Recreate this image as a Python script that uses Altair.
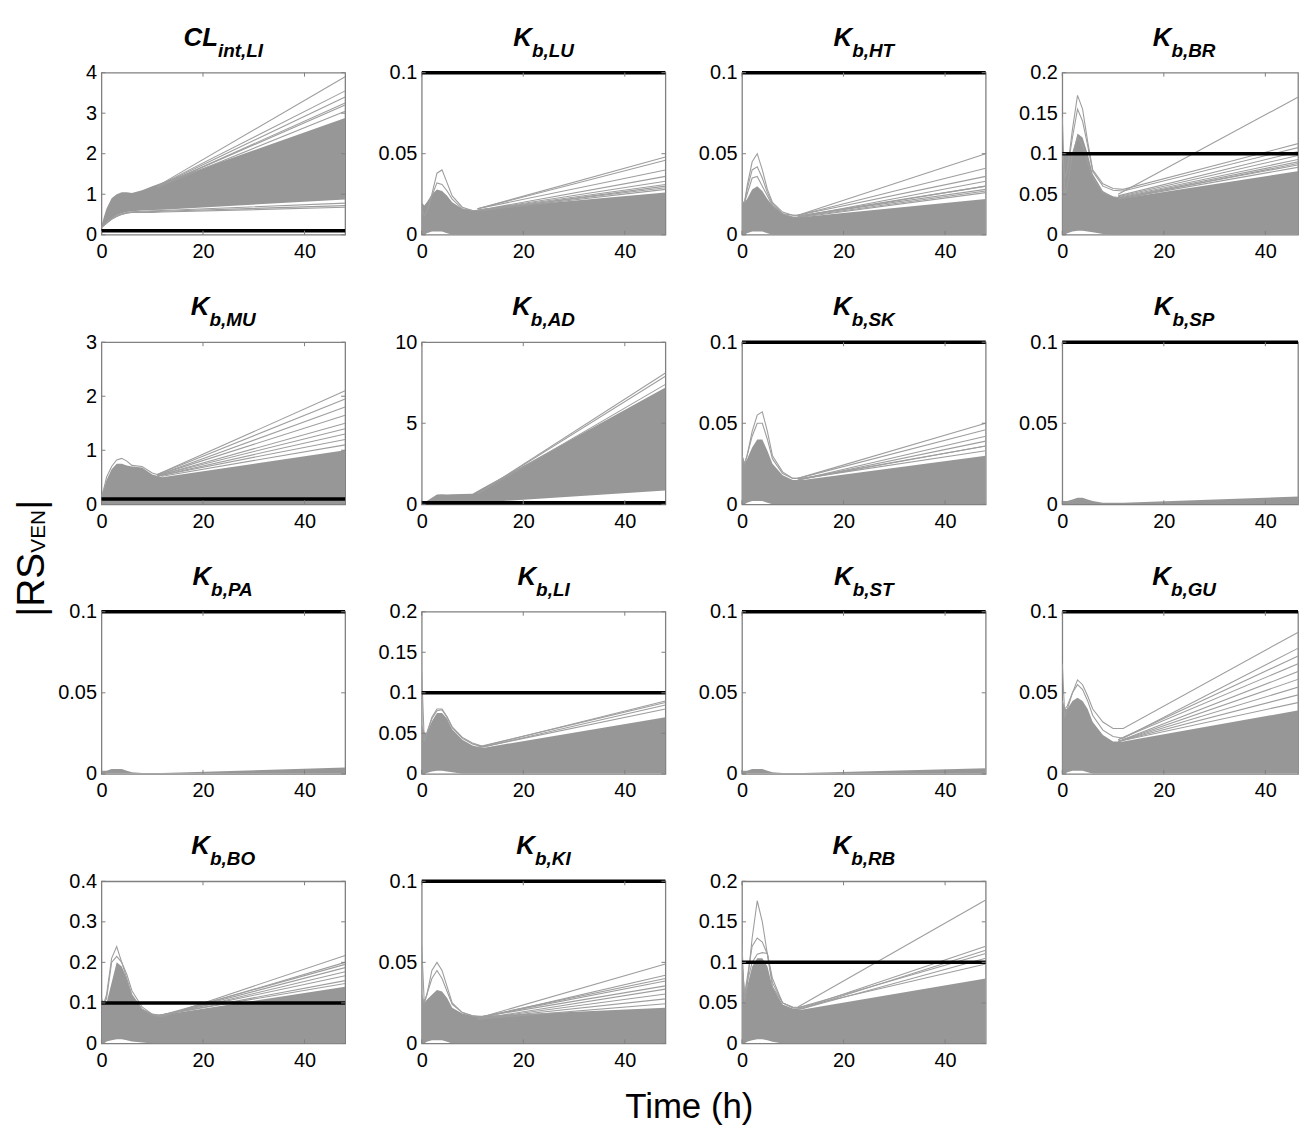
import altair as alt
import pandas as pd

# ---------------- data ----------------
T = [0, 0.5, 1, 2, 3, 4, 5, 6, 8, 10, 12, 48]      # time grid of envelopes / peak curves
T_LATE = [11, 48]                                  # straight late segments
X_TICKS = [0, 20, 40]
THRESHOLD = 0.1

Y_01 = [0, 0.05, 0.1]
Y_02 = [0, 0.05, 0.1, 0.15, 0.2]
Y_04 = [0, 0.1, 0.2, 0.3, 0.4]
Y_3 = [0, 1, 2, 3]
Y_4 = [0, 1, 2, 3, 4]
Y_10 = [0, 5, 10]

# CL_int,LI
CL_HI = [0.22, 0.45, 0.65, 0.9, 1.0, 1.05, 1.05, 1.03, 1.1, 1.2, 1.29, 2.88]
CL_LO = [0.18, 0.24, 0.3, 0.4, 0.48, 0.53, 0.56, 0.58, 0.6, 0.61, 0.62, 0.87]
CL_PEAKS = [[0.18, 0.23, 0.28, 0.38, 0.45, 0.5, 0.53, 0.55, 0.55, 0.55, 0.56, 0.68],
            [0.18, 0.23, 0.29, 0.39, 0.46, 0.51, 0.54, 0.56, 0.56, 0.57, 0.58, 0.72],
            [0.18, 0.24, 0.3, 0.4, 0.47, 0.52, 0.55, 0.57, 0.58, 0.59, 0.6, 0.78]]
CL_LATE0 = [1.2, 1.2, 1.19, 1.18, 1.18, 1.17]
CL_LATE1 = [3.9, 3.55, 3.4, 3.25, 3.2, 3.05]

# K_b,LU
LU_HI = [0.02, 0.018, 0.02, 0.025, 0.028, 0.027, 0.024, 0.02, 0.016, 0.015, 0.016, 0.026]
LU_LO = [0, 0, 0.001, 0.002, 0.002, 0.002, 0.001, 0, 0, 0, 0, 0]
LU_PEAKS = [[0.015, 0.012, 0.014, 0.025, 0.038, 0.04, 0.032, 0.024, 0.017, 0.015, 0.015, 0.03],
            [0.015, 0.012, 0.014, 0.024, 0.032, 0.031, 0.027, 0.022, 0.016, 0.015, 0.015, 0.028]]
LU_LATE0 = [0.016, 0.016, 0.016, 0.015, 0.015, 0.015, 0.015]
LU_LATE1 = [0.048, 0.046, 0.04, 0.036, 0.033, 0.031, 0.029]

# K_b,HT
HT_HI = [0.02, 0.02, 0.022, 0.028, 0.03, 0.027, 0.022, 0.018, 0.013, 0.011, 0.011, 0.022]
HT_LO = [0, 0, 0.001, 0.002, 0.002, 0.002, 0.001, 0, 0, 0, 0, 0]
HT_PEAKS = [[0.02, 0.02, 0.03, 0.045, 0.05, 0.04, 0.028, 0.02, 0.014, 0.012, 0.012, 0.03],
            [0.02, 0.02, 0.028, 0.04, 0.042, 0.035, 0.026, 0.019, 0.013, 0.012, 0.012, 0.028],
            [0.02, 0.02, 0.025, 0.035, 0.036, 0.03, 0.024, 0.018, 0.013, 0.011, 0.011, 0.026]]
HT_LATE0 = [0.012, 0.012, 0.012, 0.011, 0.011, 0.011]
HT_LATE1 = [0.05, 0.041, 0.036, 0.033, 0.03, 0.027]

# K_b,BR
BR_HI = [0.1, 0.1, 0.1, 0.1, 0.125, 0.12, 0.1, 0.075, 0.054, 0.047, 0.045, 0.08]
BR_LO = [0, 0, 0.002, 0.004, 0.005, 0.005, 0.004, 0.003, 0.001, 0, 0, 0]
BR_PEAKS = [[0.1, 0.07, 0.08, 0.13, 0.172, 0.155, 0.115, 0.08, 0.063, 0.057, 0.056, 0.115],
            [0.1, 0.07, 0.08, 0.12, 0.155, 0.14, 0.11, 0.078, 0.06, 0.055, 0.054, 0.11],
            [0.145, 0.05, 0.06, 0.1, 0.12, 0.11, 0.09, 0.07, 0.052, 0.047, 0.045, 0.09]]
BR_LATE0 = [0.05, 0.048, 0.047, 0.046, 0.045, 0.045, 0.044]
BR_LATE1 = [0.175, 0.105, 0.1, 0.095, 0.092, 0.088, 0.085]

# K_b,MU
MU_HI = [0.15, 0.3, 0.45, 0.65, 0.75, 0.75, 0.72, 0.7, 0.68, 0.55, 0.5, 1.0]
MU_LO = [0, 0, 0, 0, 0, 0, 0, 0, 0, 0, 0, 0]
MU_PEAKS = [[0.15, 0.3, 0.5, 0.7, 0.82, 0.85, 0.8, 0.72, 0.7, 0.58, 0.52, 1.1]]
MU_LATE0 = [0.55, 0.55, 0.54, 0.54, 0.53, 0.53, 0.52, 0.52]
MU_LATE1 = [2.1, 1.95, 1.8, 1.65, 1.5, 1.4, 1.3, 1.2]

# K_b,AD
AD_HI = [0.05, 0.1, 0.2, 0.4, 0.6, 0.62, 0.6, 0.62, 0.64, 0.65, 1.0, 7.2]
AD_LO = [0, 0, 0, 0, 0, 0, 0, 0, 0.05, 0.1, 0.12, 0.85]
AD_PEAKS = []
AD_LATE0 = [0.66, 0.66, 0.65]
AD_LATE1 = [8.1, 7.9, 7.4]

# K_b,SK
SK_HI = [0.03, 0.025, 0.028, 0.035, 0.04, 0.04, 0.033, 0.025, 0.018, 0.015, 0.015, 0.03]
SK_LO = [0, 0, 0.001, 0.002, 0.002, 0.002, 0.001, 0, 0, 0, 0, 0]
SK_PEAKS = [[0.03, 0.025, 0.03, 0.045, 0.055, 0.057, 0.045, 0.03, 0.02, 0.016, 0.016, 0.036],
            [0.03, 0.025, 0.03, 0.042, 0.05, 0.05, 0.04, 0.028, 0.019, 0.016, 0.016, 0.033]]
SK_LATE0 = [0.016, 0.016, 0.015, 0.015, 0.015]
SK_LATE1 = [0.05, 0.046, 0.042, 0.039, 0.036]

# K_b,SP
SP_HI = [0.002, 0.002, 0.002, 0.003, 0.004, 0.004, 0.003, 0.002, 0.001, 0.001, 0.001, 0.005]
SP_LO = [0, 0, 0, 0, 0, 0, 0, 0, 0, 0, 0, 0]

# K_b,PA
PA_HI = [0.002, 0.002, 0.002, 0.003, 0.003, 0.003, 0.002, 0.001, 0.0005, 0.0005, 0.0005, 0.004]
PA_LO = [0, 0, 0, 0, 0, 0, 0, 0, 0, 0, 0, 0]

# K_b,LI
LI_HI = [0.06, 0.05, 0.05, 0.065, 0.075, 0.075, 0.068, 0.055, 0.042, 0.035, 0.032, 0.07]
LI_LO = [0, 0, 0.001, 0.003, 0.004, 0.004, 0.003, 0.002, 0, 0, 0, 0]
LI_PEAKS = [[0.125, 0.04, 0.05, 0.07, 0.08, 0.08, 0.07, 0.058, 0.045, 0.038, 0.034, 0.09],
            [0.06, 0.05, 0.05, 0.068, 0.078, 0.079, 0.07, 0.057, 0.044, 0.037, 0.033, 0.085]]
LI_LATE0 = [0.033, 0.032]
LI_LATE1 = [0.088, 0.08]

# K_b,ST
ST_HI = [0.002, 0.002, 0.002, 0.003, 0.003, 0.003, 0.002, 0.001, 0.0005, 0.0005, 0.0005, 0.0035]
ST_LO = [0, 0, 0, 0, 0, 0, 0, 0, 0, 0, 0, 0]

# K_b,GU
GU_HI = [0.045, 0.04, 0.04, 0.045, 0.047, 0.045, 0.04, 0.032, 0.024, 0.02, 0.02, 0.04]
GU_LO = [0, 0, 0.001, 0.002, 0.002, 0.002, 0.001, 0, 0, 0, 0, 0]
GU_PEAKS = [[0.068, 0.035, 0.04, 0.05, 0.058, 0.055, 0.048, 0.04, 0.032, 0.028, 0.028, 0.09],
            [0.045, 0.04, 0.042, 0.05, 0.055, 0.052, 0.045, 0.036, 0.027, 0.023, 0.022, 0.08]]
GU_LATE0 = [0.021, 0.021, 0.02, 0.02, 0.02, 0.02, 0.02]
GU_LATE1 = [0.075, 0.07, 0.065, 0.06, 0.055, 0.05, 0.045]

# K_b,BO
BO_HI = [0.1, 0.1, 0.1, 0.15, 0.2, 0.19, 0.16, 0.12, 0.085, 0.074, 0.07, 0.14]
BO_LO = [0, 0, 0.005, 0.008, 0.01, 0.01, 0.008, 0.005, 0.002, 0, 0, 0]
BO_PEAKS = [[0.11, 0.1, 0.12, 0.21, 0.239, 0.2, 0.16, 0.12, 0.085, 0.07, 0.066, 0.217],
            [0.1, 0.1, 0.11, 0.2, 0.215, 0.2, 0.17, 0.13, 0.09, 0.072, 0.067, 0.2]]
BO_LATE0 = [0.067, 0.066, 0.066, 0.068, 0.068, 0.069]
BO_LATE1 = [0.195, 0.187, 0.177, 0.167, 0.155, 0.148]

# K_b,KI
KI_HI = [0.03, 0.025, 0.027, 0.03, 0.033, 0.032, 0.028, 0.022, 0.0185, 0.017, 0.017, 0.022]
KI_LO = [0, 0, 0.001, 0.002, 0.002, 0.002, 0.001, 0, 0, 0, 0, 0]
KI_PEAKS = [[0.06, 0.025, 0.03, 0.045, 0.05, 0.045, 0.035, 0.025, 0.019, 0.017, 0.0165, 0.049],
            [0.03, 0.025, 0.03, 0.04, 0.045, 0.04, 0.032, 0.024, 0.019, 0.017, 0.016, 0.042]]
KI_LATE0 = [0.016, 0.016, 0.016, 0.015, 0.015, 0.015, 0.015]
KI_LATE1 = [0.04, 0.0385, 0.0355, 0.0335, 0.0305, 0.0275, 0.0245]

# K_b,RB
RB_HI = [0.1, 0.06, 0.07, 0.095, 0.105, 0.105, 0.095, 0.07, 0.048, 0.043, 0.042, 0.08]
RB_LO = [0, 0, 0.002, 0.004, 0.005, 0.005, 0.004, 0.002, 0, 0, 0, 0]
RB_PEAKS = [[0.122, 0.05, 0.07, 0.13, 0.176, 0.15, 0.11, 0.07, 0.05, 0.045, 0.044, 0.12],
            [0.1, 0.06, 0.08, 0.12, 0.13, 0.125, 0.11, 0.075, 0.05, 0.044, 0.043, 0.115],
            [0.1, 0.06, 0.075, 0.1, 0.11, 0.112, 0.111, 0.08, 0.05, 0.044, 0.043, 0.105]]
RB_LATE0 = [0.045, 0.044, 0.044]
RB_LATE1 = [0.177, 0.111, 0.098]

PANELS = [
    ("CL", "int,LI", 4, Y_4, CL_HI, CL_LO, CL_PEAKS, CL_LATE0, CL_LATE1),
    ("K", "b,LU", 0.1, Y_01, LU_HI, LU_LO, LU_PEAKS, LU_LATE0, LU_LATE1),
    ("K", "b,HT", 0.1, Y_01, HT_HI, HT_LO, HT_PEAKS, HT_LATE0, HT_LATE1),
    ("K", "b,BR", 0.2, Y_02, BR_HI, BR_LO, BR_PEAKS, BR_LATE0, BR_LATE1),
    ("K", "b,MU", 3, Y_3, MU_HI, MU_LO, MU_PEAKS, MU_LATE0, MU_LATE1),
    ("K", "b,AD", 10, Y_10, AD_HI, AD_LO, AD_PEAKS, AD_LATE0, AD_LATE1),
    ("K", "b,SK", 0.1, Y_01, SK_HI, SK_LO, SK_PEAKS, SK_LATE0, SK_LATE1),
    ("K", "b,SP", 0.1, Y_01, SP_HI, SP_LO, [], [], []),
    ("K", "b,PA", 0.1, Y_01, PA_HI, PA_LO, [], [], []),
    ("K", "b,LI", 0.2, Y_02, LI_HI, LI_LO, LI_PEAKS, LI_LATE0, LI_LATE1),
    ("K", "b,ST", 0.1, Y_01, ST_HI, ST_LO, [], [], []),
    ("K", "b,GU", 0.1, Y_01, GU_HI, GU_LO, GU_PEAKS, GU_LATE0, GU_LATE1),
    ("K", "b,BO", 0.4, Y_04, BO_HI, BO_LO, BO_PEAKS, BO_LATE0, BO_LATE1),
    ("K", "b,KI", 0.1, Y_01, KI_HI, KI_LO, KI_PEAKS, KI_LATE0, KI_LATE1),
    ("K", "b,RB", 0.2, Y_02, RB_HI, RB_LO, RB_PEAKS, RB_LATE0, RB_LATE1),
]

# ---------------- styling / layout ----------------
W, H = 245, 163
W_LAST = 237            # last column is cut by the page edge in the reference
XMAX = 48
GREY = "#979797"
LINE_GREY = "#9e9e9e"
FRAME = "#808080"
FONT = "Liberation Sans"
MAIN_FS, SUB_FS = 26, 19
TICK_FS = 20
# Arial/Liberation Sans Bold advance widths (per em) for centring titles
CW = {"A": .722, "B": .722, "C": .722, "D": .722, "G": .778, "H": .722, "I": .278,
      "K": .722, "L": .611, "M": .833, "O": .778, "P": .667, "R": .722, "S": .667,
      "T": .611, "U": .722, "b": .611, "i": .278, "n": .611, "t": .333, ",": .278}


def twidth(s, fs):
    return sum(CW.get(c, .6) for c in s) * fs


def text_layer(label, x, y, **kw):
    return alt.Chart(pd.DataFrame({"s": [label]})).mark_text(**kw).encode(
        x=alt.value(x), y=alt.value(y), text="s:N")


def make_panel(i, main, sub, ymax, yticks, hi, lo, peaks, late0, late1):
    last_col = (i % 4 == 3)
    w = W_LAST if last_col else W
    xmax = XMAX * w / W
    xs = alt.Scale(domain=[0, xmax], nice=False, zero=False)
    ys = alt.Scale(domain=[0, ymax], nice=False, zero=False)
    xax = alt.Axis(values=X_TICKS, title=None, labelFlush=False, labelOverlap=False,
                   labelPadding=7, ticks=False, domain=False, grid=False)
    yax = alt.Axis(values=yticks, format="~r", title=None, labelFlush=False,
                   labelOverlap=False, labelPadding=5, ticks=False, domain=False, grid=False)
    X = lambda f: alt.X(f, scale=xs, axis=xax)
    Y = lambda f: alt.Y(f, scale=ys, axis=yax)

    mass = pd.DataFrame({"t": T, "hi": hi, "lo": lo})
    layers = [alt.Chart(mass).mark_area(color=GREY, opacity=1, clip=True).encode(
        x=X("t:Q"), y=Y("hi:Q"), y2="lo:Q")]

    rows = []
    for k, p in enumerate(peaks):
        rows += [{"id": f"p{k}", "t": t, "v": v} for t, v in zip(T, p)]
    for k, (a, b) in enumerate(zip(late0, late1)):
        rows += [{"id": f"l{k}", "t": T_LATE[0], "v": a}, {"id": f"l{k}", "t": T_LATE[1], "v": b}]
    if rows:
        layers.append(alt.Chart(pd.DataFrame(rows)).mark_line(
            color=LINE_GREY, strokeWidth=1.1, clip=True).encode(
            x=X("t:Q"), y=Y("v:Q"), detail="id:N"))

    layers.append(alt.Chart(pd.DataFrame({"v": [THRESHOLD]})).mark_rule(
        color="black", strokeWidth=3.5).encode(y=Y("v:Q")))

    # inward MATLAB-like ticks on all four sides
    ytk = pd.DataFrame({"v": yticks})
    xtk = pd.DataFrame({"t": X_TICKS})
    layers += [
        alt.Chart(ytk).mark_rule(color=FRAME, strokeWidth=1).encode(
            y=Y("v:Q"), x=alt.value(0), x2=alt.value(4)),
        alt.Chart(xtk).mark_rule(color=FRAME, strokeWidth=1).encode(
            x=X("t:Q"), y=alt.value(H), y2=alt.value(H - 4)),
        alt.Chart(xtk).mark_rule(color=FRAME, strokeWidth=1).encode(
            x=X("t:Q"), y=alt.value(0), y2=alt.value(4)),
    ]
    if not last_col:
        layers.append(alt.Chart(ytk).mark_rule(color=FRAME, strokeWidth=1).encode(
            y=Y("v:Q"), x=alt.value(w - 4), x2=alt.value(w)))

    # title with subscript, centred on the full (uncut) panel width
    cx = W / 2
    junction = cx + (twidth(main, MAIN_FS) - twidth(sub, SUB_FS)) / 2
    layers.append(text_layer(main, junction, -27, font=FONT, fontSize=MAIN_FS,
                             fontStyle="italic", fontWeight="bold", align="right",
                             baseline="alphabetic", color="black"))
    layers.append(text_layer(sub, junction, -16, font=FONT, fontSize=SUB_FS,
                             fontStyle="italic", fontWeight="bold", align="left",
                             baseline="alphabetic", color="black"))

    if i == 0:
        # invisible anchor fixing the page origin
        layers.append(alt.Chart(pd.DataFrame({"a": [0]})).mark_point(
            filled=True, size=1, opacity=0, strokeWidth=0).encode(
            x=alt.value(-100), y=alt.value(-68)))
    if i == 8:
        big, small = 39, 21
        w1 = (0.26 + 0.722 + 0.667) * big
        w2 = (0.667 + 0.667 + 0.722) * small
        y0 = 5
        bx = -58
        kw = dict(font=FONT, angle=270, align="left", baseline="alphabetic", color="black")
        layers.append(text_layer("|RS", bx, y0, fontSize=big, **kw))
        layers.append(text_layer("VEN", bx + 1, y0 - w1, fontSize=small, **kw))
        layers.append(text_layer("|", bx, y0 - w1 - w2, fontSize=big, **kw))
    if i == 13:
        layers.append(text_layer("Time (h)", 269, 238, font=FONT, fontSize=35,
                                 align="center", baseline="alphabetic", color="black"))

    return alt.layer(*layers).properties(width=w, height=H)


panels = [make_panel(i, *p) for i, p in enumerate(PANELS)]

chart = alt.concat(*panels, columns=4, spacing={"row": 108, "column": 77},
                   bounds="flush").properties(
    padding={"left": 0, "top": 0, "right": 0, "bottom": 0},
    background="white",
).configure_view(stroke=FRAME, strokeWidth=1.3).configure_axis(
    labelFont=FONT, labelFontSize=TICK_FS, labelColor="black")

chart.save("out.html", embed_options={"renderer": "svg", "actions": False})
